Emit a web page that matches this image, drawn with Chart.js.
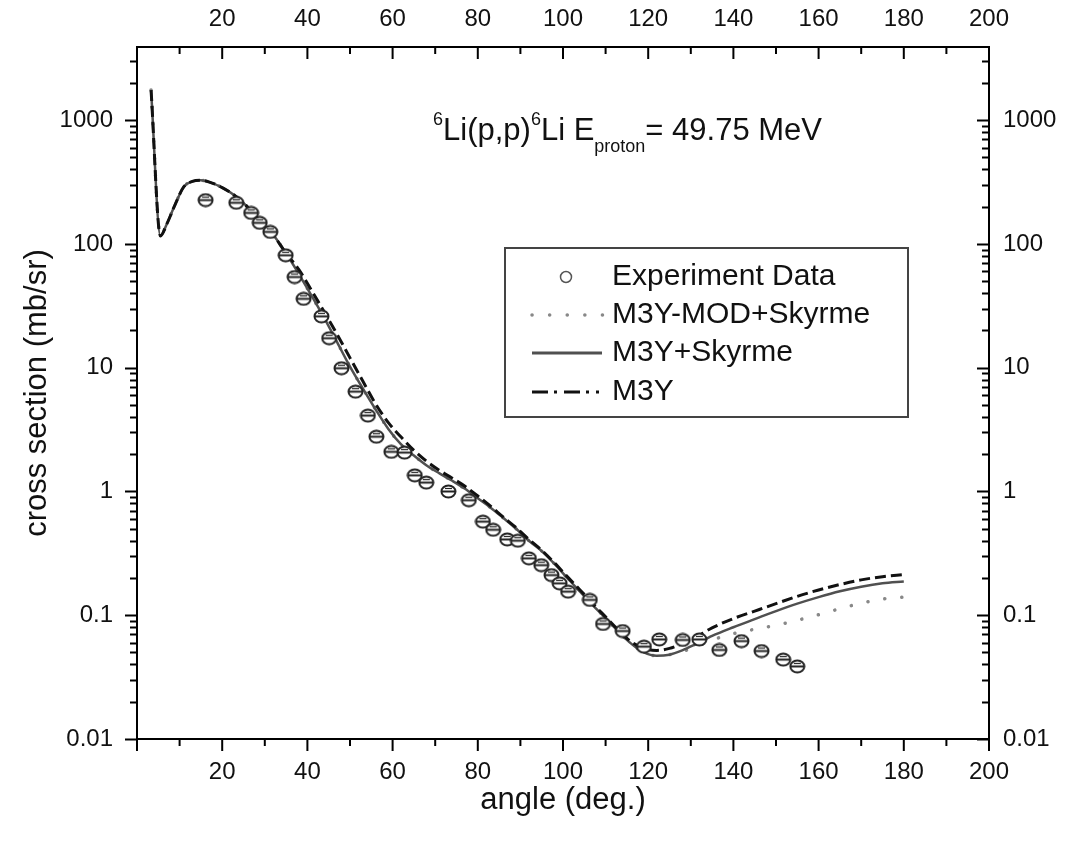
<!DOCTYPE html>
<html lang="en">
<head>
<meta charset="UTF-8">
<title>6Li(p,p)6Li cross section</title>
<script src="https://cdn.jsdelivr.net/npm/chart.js"></script>
<style>
  html, body { margin: 0; padding: 0; background: #fff; }
  canvas { display: block; }
</style>
</head>
<body>
<canvas id="xsChart" width="1069" height="842"></canvas>
<script>
  // measured points (deg, mb/sr)
  const expAngle = [16.1, 23.3, 26.8, 28.8, 31.3, 34.9, 37.0, 39.1, 43.3, 45.1, 48.0, 51.3, 54.2, 56.2, 59.7, 62.8,
    65.2, 67.9, 73.1, 77.9, 81.2, 83.6, 86.9, 89.4, 92.0, 94.9, 97.3, 99.2, 101.2, 106.3, 109.4, 114.0,
    119.0, 122.6, 128.1, 132.0, 136.7, 141.9, 146.6, 151.7, 155.0];
  const expSigma = [226, 215, 178, 148, 125, 81, 54, 36, 26, 17.3, 9.9, 6.4, 4.1, 2.77, 2.09, 2.06,
    1.35, 1.18, 1.0, 0.85, 0.57, 0.49, 0.41, 0.40, 0.288, 0.254, 0.211, 0.181, 0.155, 0.133, 0.085, 0.0745,
    0.0557, 0.0638, 0.0631, 0.0638, 0.0524, 0.0618, 0.0514, 0.0438, 0.0386];

  // calculated curves
  const curveAngle = [3.3, 5.5, 7, 9, 11, 13, 15, 17, 20, 23, 26, 29, 32, 35, 38, 41, 44, 47, 50, 53, 56, 59,
    62, 65, 68, 71, 74, 77, 80, 83, 86, 89, 92, 95, 98, 101, 104, 107, 110, 113, 116, 119, 122, 125, 128, 131,
    135, 140, 145, 150, 155, 160, 165, 170, 175, 180];
  const m3ySkyrme = [1750, 116, 145, 210, 290, 320, 327, 316, 285, 245, 198, 152, 118, 84, 57, 38, 25, 16, 10.2, 6.8, 4.6, 3.2,
    2.4, 1.95, 1.62, 1.4, 1.22, 1.05, 0.88, 0.74, 0.61, 0.5, 0.4, 0.33, 0.26, 0.2, 0.155, 0.12, 0.095, 0.074, 0.059, 0.05,
    0.047, 0.048, 0.052, 0.058, 0.068, 0.08, 0.093, 0.108, 0.124, 0.14, 0.156, 0.17, 0.181, 0.187];
  const m3y = [1750, 116, 145, 210, 290, 320, 327, 316, 285, 245, 198, 152, 118, 84, 62, 42, 28, 18.5, 12, 7.8, 5.1, 3.6,
    2.75, 2.15, 1.75, 1.48, 1.28, 1.1, 0.92, 0.76, 0.62, 0.51, 0.41, 0.335, 0.265, 0.205, 0.16, 0.124, 0.097, 0.076, 0.061, 0.054,
    0.052, 0.054, 0.059, 0.066, 0.079, 0.094, 0.108, 0.124, 0.142, 0.16, 0.177, 0.193, 0.205, 0.213];
  const m3yModSkyrme = [1750, 116, 145, 210, 290, 320, 327, 316, 285, 245, 198, 152, 118, 84, 57, 38, 25, 16, 10.2, 6.8, 4.6, 3.2,
    2.4, 1.95, 1.62, 1.4, 1.22, 1.05, 0.88, 0.74, 0.61, 0.5, 0.4, 0.33, 0.26, 0.2, 0.155, 0.12, 0.095, 0.074, 0.059, 0.05,
    0.047, 0.048, 0.051, 0.055, 0.063, 0.071, 0.077, 0.083, 0.091, 0.101, 0.113, 0.125, 0.135, 0.14];

  const xTickLabels = [20, 40, 60, 80, 100, 120, 140, 160, 180, 200];
  const yTickLabels = [0.01, 0.1, 1, 10, 100, 1000];

  const FONT = '"Liberation Sans", Arial, Helvetica, sans-serif';
  const pairs = (xs, ys) => xs.map((x, i) => ({ x: x, y: ys[i] }));

  function makeMarker() {
    const c = document.createElement('canvas');
    c.width = 17; c.height = 15;
    const g = c.getContext('2d');
    g.fillStyle = '#fff';
    g.strokeStyle = '#222';
    g.lineWidth = 2;
    g.beginPath(); g.ellipse(8.5, 7.5, 7, 6, 0, 0, Math.PI * 2); g.fill(); g.stroke();
    g.beginPath(); g.moveTo(2, 7.5); g.lineTo(15, 7.5); g.stroke();
    g.lineWidth = 1.2;
    g.beginPath(); g.moveTo(5, 4.5); g.lineTo(12, 4.5); g.stroke();
    return c;
  }

  // frame with the tick marks of all four sides
  const frameTicks = {
    id: 'frameTicks',
    afterDraw(chart) {
      const { ctx, chartArea: a, scales } = chart;
      const x = scales.x, y = scales.y;
      ctx.save();
      ctx.strokeStyle = '#000';
      ctx.lineWidth = 2;
      ctx.strokeRect(a.left, a.top, a.right - a.left, a.bottom - a.top);
      ctx.beginPath();
      for (let v = 0; v <= 200; v += 10) {
        const px = x.getPixelForValue(v);
        const len = v % 20 === 0 ? 12 : 7;
        ctx.moveTo(px, a.bottom); ctx.lineTo(px, a.bottom + len);
        ctx.moveTo(px, a.top); ctx.lineTo(px, a.top + len);
      }
      for (let d = -2; d <= 3; d++) {
        for (let m = 1; m <= 9; m++) {
          const v = m * Math.pow(10, d);
          if (v > y.max) break;
          const py = Math.round(y.getPixelForValue(v)) + 0.5;
          const len = m === 1 ? 12 : 7;
          ctx.moveTo(a.left, py); ctx.lineTo(a.left - len, py);
          ctx.moveTo(a.right, py); ctx.lineTo(a.right - len, py);
        }
      }
      ctx.stroke();
      ctx.restore();
    }
  };

  // reaction label and legend box
  const annotations = {
    id: 'annotations',
    afterDraw(chart) {
      const ctx = chart.ctx;
      ctx.save();
      ctx.fillStyle = '#111';
      ctx.textBaseline = 'alphabetic';
      const parts = [
        { t: '6', s: 18, dy: -15 }, { t: 'Li(p,p)', s: 31, dy: 0 },
        { t: '6', s: 18, dy: -15 }, { t: 'Li E', s: 31, dy: 0 },
        { t: 'proton', s: 18, dy: 12 }, { t: '= 49.75 MeV', s: 31, dy: 0 }
      ];
      let tx = 433;
      parts.forEach(p => {
        ctx.font = p.s + 'px ' + FONT;
        ctx.fillText(p.t, tx, 140 + p.dy);
        tx += ctx.measureText(p.t).width;
      });

      ctx.strokeStyle = '#444';
      ctx.lineWidth = 2;
      ctx.strokeRect(505, 248, 403, 169);

      ctx.font = '30px ' + FONT;
      ctx.textBaseline = 'middle';
      const rows = [277, 315, 353, 392];
      const names = ['Experiment Data', 'M3Y-MOD+Skyrme', 'M3Y+Skyrme', 'M3Y'];
      names.forEach((n, i) => ctx.fillText(n, 612, rows[i]));

      ctx.strokeStyle = '#555';
      ctx.lineWidth = 1.5;
      ctx.beginPath(); ctx.arc(566, rows[0], 5.5, 0, Math.PI * 2); ctx.stroke();

      ctx.lineCap = 'round';
      ctx.strokeStyle = '#888';
      ctx.lineWidth = 3.5;
      ctx.setLineDash([0.1, 17.5]);
      ctx.beginPath(); ctx.moveTo(532, rows[1]); ctx.lineTo(603, rows[1]); ctx.stroke();

      ctx.lineCap = 'butt';
      ctx.setLineDash([]);
      ctx.strokeStyle = '#505050';
      ctx.lineWidth = 3;
      ctx.beginPath(); ctx.moveTo(532, rows[2]); ctx.lineTo(602, rows[2]); ctx.stroke();

      ctx.strokeStyle = '#111';
      ctx.setLineDash([16, 6, 3, 7]);
      ctx.beginPath(); ctx.moveTo(532, rows[3]); ctx.lineTo(599, rows[3]); ctx.stroke();
      ctx.restore();
    }
  };

  const tickFont = { family: FONT, size: 24 };

  new Chart(document.getElementById('xsChart'), {
    type: 'scatter',
    data: {
      datasets: [
        {
          label: 'Experiment Data',
          data: pairs(expAngle, expSigma),
          pointStyle: makeMarker(),
          pointRadius: 8,
          showLine: false
        },
        {
          label: 'M3Y',
          data: pairs(curveAngle, m3y),
          showLine: true,
          borderColor: '#111',
          borderWidth: 3,
          borderDash: [11, 5],
          pointRadius: 0,
          cubicInterpolationMode: 'monotone'
        },
        {
          label: 'M3Y+Skyrme',
          data: pairs(curveAngle, m3ySkyrme),
          showLine: true,
          borderColor: '#505050',
          borderWidth: 2.5,
          pointRadius: 0,
          cubicInterpolationMode: 'monotone'
        },
        {
          label: 'M3Y-MOD+Skyrme',
          data: pairs(curveAngle, m3yModSkyrme),
          showLine: true,
          borderColor: '#888',
          borderWidth: 3.5,
          borderDash: [0.1, 17],
          borderCapStyle: 'round',
          pointRadius: 0,
          cubicInterpolationMode: 'monotone'
        }
      ]
    },
    options: {
      responsive: false,
      animation: false,
      devicePixelRatio: 1,
      layout: { padding: 0 },
      plugins: { legend: { display: false }, tooltip: { enabled: false } },
      scales: {
        x: {
          type: 'linear', position: 'bottom', min: 0, max: 200,
          grid: { display: false, drawTicks: false }, border: { display: false },
          afterBuildTicks: s => { s.ticks = xTickLabels.map(v => ({ value: v })); },
          afterFit: s => { s.height = 103; },
          ticks: { color: '#111', font: tickFont, padding: 19, maxRotation: 0 },
          title: { display: true, text: 'angle (deg.)', color: '#111', font: { family: FONT, size: 31 }, padding: { top: 0, bottom: 23 } }
        },
        x2: {
          type: 'linear', position: 'top', min: 0, max: 200,
          grid: { display: false, drawTicks: false }, border: { display: false },
          afterBuildTicks: s => { s.ticks = xTickLabels.map(v => ({ value: v })); },
          afterFit: s => { s.height = 47; },
          ticks: { color: '#111', font: tickFont, padding: 13, maxRotation: 0 }
        },
        y: {
          type: 'logarithmic', position: 'left', min: 0.01, max: 3900,
          grid: { display: false, drawTicks: false }, border: { display: false },
          afterBuildTicks: s => { s.ticks = yTickLabels.map(v => ({ value: v })); },
          afterFit: s => { s.width = 137; },
          ticks: { color: '#111', font: tickFont, padding: 24, callback: v => String(v) },
          title: { display: true, text: 'cross section (mb/sr)', color: '#111', font: { family: FONT, size: 31 }, padding: { top: 19, bottom: 0 } }
        },
        y2: {
          type: 'logarithmic', position: 'right', min: 0.01, max: 3900,
          grid: { display: false, drawTicks: false }, border: { display: false },
          afterBuildTicks: s => { s.ticks = yTickLabels.map(v => ({ value: v })); },
          afterFit: s => { s.width = 80; },
          ticks: { color: '#111', font: tickFont, padding: 14, callback: v => String(v) }
        }
      }
    },
    plugins: [frameTicks, annotations]
  });
</script>
</body>
</html>
